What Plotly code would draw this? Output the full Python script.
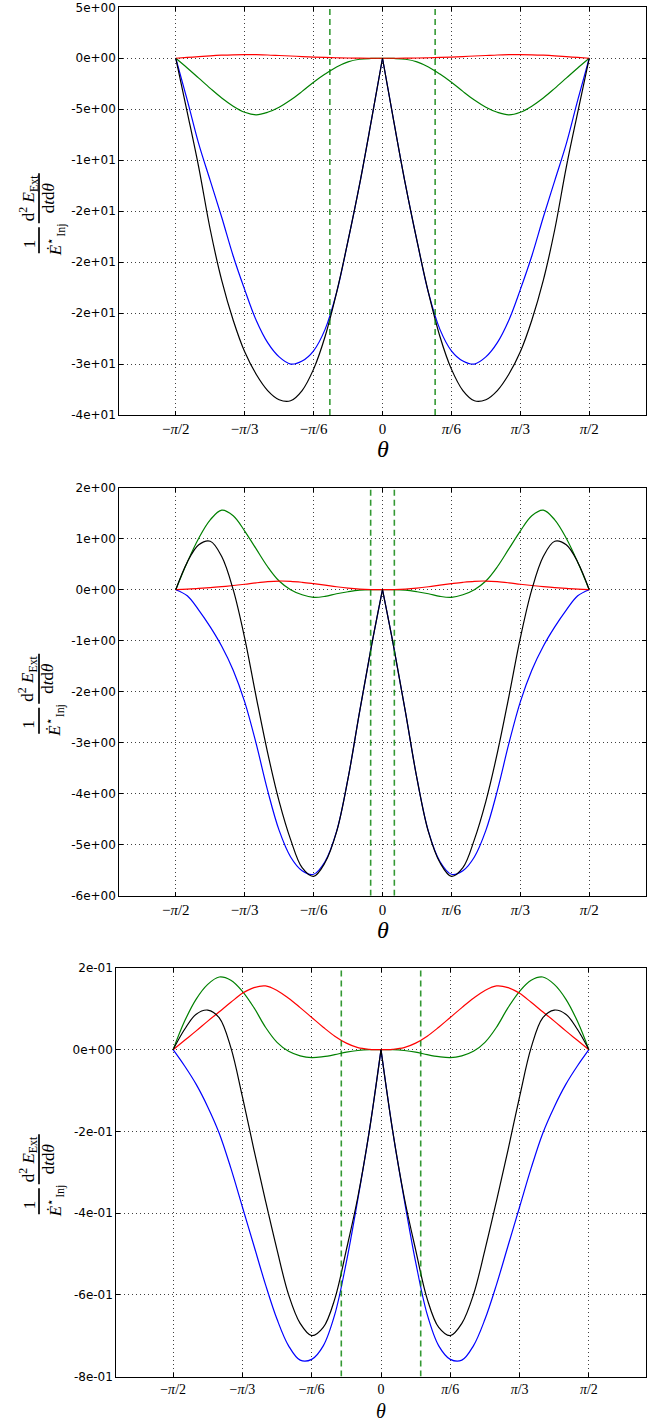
import math
import plotly.graph_objects as go

W, H = 672, 1424

# ---------------- data (theta in degrees) ----------------
THETA_DEG = [-90, -85, -80, -75, -70, -65, -60, -55, -50, -45, -40, -35, -30, -25, -20, -15, -10, -5, 0,
             5, 10, 15, 20, 25, 30, 35, 40, 45, 50, 55, 60, 65, 70, 75, 80, 85, 90]

# panel 1
BLACK_1 = [0, -5.3, -10.7, -16.8, -21.8, -25.7, -28.8, -31.0, -32.6, -33.5, -33.6, -32.6, -30.5, -27.3, -23.0, -17.9, -12.4, -6.3, 0,
           -6.3, -12.4, -17.9, -23.0, -27.3, -30.5, -32.6, -33.6, -33.5, -32.6, -31.0, -28.8, -25.7, -21.8, -16.8, -10.7, -5.3, 0]
BLUE_1 = [0, -4.1, -8.4, -12.0, -15.6, -19.4, -22.7, -25.7, -27.9, -29.3, -30.0, -29.7, -28.7, -26.6, -23.0, -17.9, -12.4, -6.3, 0,
          -6.3, -12.4, -17.9, -23.0, -26.6, -28.7, -29.7, -30.0, -29.3, -27.9, -25.7, -22.7, -19.4, -15.6, -12.0, -8.4, -4.1, 0]
GREEN_1 = [0, -0.95, -1.95, -2.95, -3.9, -4.7, -5.3, -5.55, -5.3, -4.8, -4.1, -3.25, -2.35, -1.55, -0.85, -0.35, -0.1, -0.02, 0,
           -0.02, -0.1, -0.35, -0.85, -1.55, -2.35, -3.25, -4.1, -4.8, -5.3, -5.55, -5.3, -4.7, -3.9, -2.95, -1.95, -0.95, 0]
RED_1 = [0, 0.08, 0.16, 0.24, 0.3, 0.34, 0.36, 0.35, 0.32, 0.27, 0.22, 0.17, 0.12, 0.08, 0.05, 0.025, 0.01, 0.002, 0,
         0.002, 0.01, 0.025, 0.05, 0.08, 0.12, 0.17, 0.22, 0.27, 0.32, 0.35, 0.36, 0.34, 0.3, 0.24, 0.16, 0.08, 0]

# panel 2
BLACK_2 = [0, 0.54, 0.88, 0.95, 0.65, 0.0, -0.95, -2.1, -3.2, -4.15, -4.9, -5.45, -5.62, -5.35, -4.75, -3.7, -2.4, -1.15, 0,
           -1.15, -2.4, -3.7, -4.75, -5.35, -5.62, -5.45, -4.9, -4.15, -3.2, -2.1, -0.95, 0.0, 0.65, 0.95, 0.88, 0.54, 0]
BLUE_2 = [0, -0.12, -0.40, -0.73, -1.11, -1.58, -2.2, -3.02, -3.94, -4.72, -5.24, -5.51, -5.58, -5.33, -4.74, -3.7, -2.4, -1.15, 0,
          -1.15, -2.4, -3.7, -4.74, -5.33, -5.58, -5.51, -5.24, -4.72, -3.94, -3.02, -2.2, -1.58, -1.11, -0.73, -0.40, -0.12, 0]
GREEN_2 = [0, 0.54, 1.01, 1.37, 1.56, 1.45, 1.15, 0.8, 0.45, 0.17, 0.0, -0.1, -0.15, -0.13, -0.08, -0.04, -0.01, 0, 0,
           0, -0.01, -0.04, -0.08, -0.13, -0.15, -0.1, 0.0, 0.17, 0.45, 0.8, 1.15, 1.45, 1.56, 1.37, 1.01, 0.54, 0]
RED_2 = [0, 0.01, 0.025, 0.042, 0.06, 0.082, 0.107, 0.135, 0.158, 0.17, 0.165, 0.145, 0.118, 0.088, 0.058, 0.032, 0.013, 0.003, 0,
         0.003, 0.013, 0.032, 0.058, 0.088, 0.118, 0.145, 0.165, 0.17, 0.158, 0.135, 0.107, 0.082, 0.06, 0.042, 0.025, 0.01, 0]

# panel 3
BLACK_3 = [0, 0.05, 0.087, 0.097, 0.078, 0.005, -0.115, -0.245, -0.37, -0.49, -0.60, -0.67, -0.70, -0.68, -0.61, -0.49, -0.36, -0.197, 0,
           -0.197, -0.36, -0.49, -0.61, -0.68, -0.70, -0.67, -0.60, -0.49, -0.37, -0.245, -0.115, 0.005, 0.078, 0.097, 0.087, 0.05, 0]
BLUE_3 = [0, -0.04, -0.085, -0.14, -0.205, -0.29, -0.385, -0.48, -0.575, -0.66, -0.725, -0.76, -0.758, -0.725, -0.648, -0.52, -0.365, -0.197, 0,
          -0.197, -0.365, -0.52, -0.648, -0.725, -0.758, -0.76, -0.725, -0.66, -0.575, -0.48, -0.385, -0.29, -0.205, -0.14, -0.085, -0.04, 0]
GREEN_3 = [0, 0.07, 0.124, 0.16, 0.178, 0.17, 0.143, 0.103, 0.055, 0.018, -0.004, -0.015, -0.0195, -0.017, -0.012, -0.006, -0.002, 0, 0,
           0, -0.002, -0.006, -0.012, -0.017, -0.0195, -0.015, -0.004, 0.018, 0.055, 0.103, 0.143, 0.17, 0.178, 0.16, 0.124, 0.07, 0]
RED_3 = [0, 0.023, 0.046, 0.07, 0.093, 0.116, 0.138, 0.152, 0.156, 0.145, 0.126, 0.103, 0.079, 0.055, 0.033, 0.016, 0.005, 0.001, 0,
         0.001, 0.005, 0.016, 0.033, 0.055, 0.079, 0.103, 0.126, 0.145, 0.156, 0.152, 0.138, 0.116, 0.093, 0.07, 0.046, 0.023, 0]

DASH_POS = [0.4, 0.09, 0.3]          # +/- theta of dashed green verticals (rad)

Y_RANGES = [[-35, 5], [-6, 2], [-0.8, 0.2]]
Y_TICKVALS_1 = [5, 0, -5, -10, -15, -20, -25, -30, -35]
Y_TICKTEXT_1 = ["5e+00", "0e+00", "-5e+00", "-1e+01", "-2e+01", "-2e+01", "-2e+01", "-3e+01", "-4e+01"]
Y_TICKVALS_2 = [2, 1, 0, -1, -2, -3, -4, -5, -6]
Y_TICKTEXT_2 = ["2e+00", "1e+00", "0e+00", "-1e+00", "-2e+00", "-3e+00", "-4e+00", "-5e+00", "-6e+00"]
Y_TICKVALS_3 = [0.2, 0, -0.2, -0.4, -0.6, -0.8]
Y_TICKTEXT_3 = ["2e-01", "0e+00", "-2e-01", "-4e-01", "-6e-01", "-8e-01"]

X_TICK_MULT = [-3, -2, -1, 0, 1, 2, 3]   # multiples of pi/6
X_TICKTEXT = ["\u2212<i>π</i>/2", "\u2212<i>π</i>/3", "\u2212<i>π</i>/6", "0", "<i>π</i>/6", "<i>π</i>/3", "<i>π</i>/2"]

# ---------------- geometry (pixels) ----------------
PANELS = [  # left, right, top, bottom
    (119.3, 645.7, 7.3, 415.0),
    (119.3, 645.7, 487.7, 895.7),
    (116.3, 645.7, 968.0, 1376.5),
]

def fx(x):
    return x / W

def fy(y):
    return 1 - y / H

theta = [d * math.pi / 180 for d in THETA_DEG]
mid = THETA_DEG.index(0)

series = [
    [(BLUE_1, "#0000ff"), (GREEN_1, "#008000"), (RED_1, "#ff0000"), (BLACK_1, "#000000")],
    [(BLUE_2, "#0000ff"), (GREEN_2, "#008000"), (RED_2, "#ff0000"), (BLACK_2, "#000000")],
    [(BLUE_3, "#0000ff"), (GREEN_3, "#008000"), (RED_3, "#ff0000"), (BLACK_3, "#000000")],
]
yticks = [(Y_TICKVALS_1, Y_TICKTEXT_1), (Y_TICKVALS_2, Y_TICKTEXT_2), (Y_TICKVALS_3, Y_TICKTEXT_3)]

fig = go.Figure()
layout = dict(width=W, height=H, margin=dict(l=0, r=0, t=0, b=0),
              paper_bgcolor="white", plot_bgcolor="white", showlegend=False)
annotations = []
shapes = []

serif = "Liberation Serif, DejaVu Serif, serif"
sans = "DejaVu Sans, Liberation Sans, sans-serif"

for i in range(3):
    n = i + 1
    xa = "x" if n == 1 else f"x{n}"
    ya = "y" if n == 1 else f"y{n}"
    l, r, t, b = PANELS[i]
    for vals, col in series[i]:
        for seg in (slice(0, mid + 1), slice(mid, len(theta))):
            fig.add_trace(go.Scatter(x=theta[seg], y=vals[seg], mode="lines",
                                     line=dict(color=col, width=1.2, shape="spline", smoothing=1.0),
                                     xaxis=xa, yaxis=ya, hoverinfo="skip"))
    lo, hi = Y_RANGES[i]
    for s in (-1, 1):
        fig.add_trace(go.Scatter(x=[s * DASH_POS[i], s * DASH_POS[i]], y=[lo, hi], mode="lines",
                                 line=dict(color="rgba(0,128,0,0.8)", width=1.6, dash="6px,4px"),
                                 xaxis=xa, yaxis=ya, hoverinfo="skip"))
    axis_common = dict(showline=True, linecolor="black", linewidth=1, mirror="ticks",
                       ticks="inside", ticklen=4, tickcolor="black",
                       showgrid=True, gridcolor="rgba(0,0,0,0.75)", gridwidth=1, griddash="1px,3px",
                       zeroline=False, automargin=False)
    layout["xaxis" if n == 1 else f"xaxis{n}"] = dict(
        axis_common, domain=[fx(l), fx(r)], range=[-2, 2], anchor=ya,
        tickvals=[k * math.pi / 6 for k in X_TICK_MULT], ticktext=X_TICKTEXT,
        tickfont=dict(family=serif, size=(15 if i < 2 else 14), color="black"))
    tv, tt = yticks[i]
    layout["yaxis" if n == 1 else f"yaxis{n}"] = dict(
        axis_common, domain=[fy(b), fy(t)], range=[lo, hi], anchor=xa,
        tickvals=tv, ticktext=tt, tickfont=dict(family=sans, size=12, color="black"))

    # theta label
    if i < 2:
        annotations.append(dict(text="<i>θ</i>", x=fx(382.5), y=fy(b + 34),
                                xref="paper", yref="paper", showarrow=False, xanchor="center", yanchor="middle",
                                font=dict(family=serif, size=24, color="black")))
    else:
        annotations.append(dict(text="<i>θ</i>", x=fx(381), y=0,
                                xref="paper", yref="paper", showarrow=False, xanchor="center", yanchor="bottom",
                                font=dict(family=serif, size=20, color="black")))
    # y label pieces
    cy = (t + b) / 2
    lab = [
        ("1", 29, cy + 33, 17),
        ("<i>Ė</i><sup>⋆</sup><sub>Inj</sub>", 55, cy + 29, 17),
        ("d<sup>2</sup> <i>E</i><sub>Ext</sub>", 28, cy - 13, 17),
        ("d<i>t</i>d<i>θ</i>", 48, cy - 13, 17),
    ]
    for txt, x0, y0, sz in lab:
        annotations.append(dict(text=txt, x=fx(x0), y=fy(y0), xref="paper", yref="paper",
                                showarrow=False, textangle=-90, xanchor="center", yanchor="middle",
                                font=dict(family=serif, size=sz, color="black")))
    for y0, y1 in ((cy + 16, cy + 42), (cy - 38, cy + 12)):
        shapes.append(dict(type="line", xref="paper", yref="paper", x0=fx(39), x1=fx(39),
                           y0=fy(y0), y1=fy(y1), line=dict(color="black", width=1.7)))

layout["annotations"] = annotations
layout["shapes"] = shapes
fig.update_layout(**layout)
fig.write_html("out.html")
